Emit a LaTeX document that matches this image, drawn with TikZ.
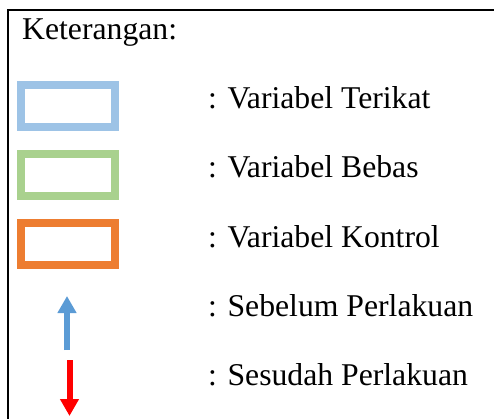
\documentclass[tikz,border=0pt]{standalone}
\usepackage{fontspec}
\setmainfont{Liberation Serif}
\usetikzlibrary{arrows.meta}
\definecolor{terikatColor}{HTML}{9DC3E6}
\definecolor{bebasColor}{HTML}{A9D18E}
\definecolor{kontrolColor}{HTML}{ED7D31}
\definecolor{sebelumColor}{HTML}{5B9BD5}
\definecolor{sesudahColor}{HTML}{FF0000}
\tikzset{
	legbox/.style={draw=#1, line width=8pt, minimum width=94pt, minimum height=42pt, inner sep=0, outer sep=0},
	legtext/.style={anchor=base west, inner sep=0, font=\fontsize{31.7}{38}\selectfont},
	legarrow/.style={draw=#1, line width=6pt, -{Triangle[length=17pt,width=18pt]}, #1}
}
\begin{document}
\begin{tikzpicture}[x=1pt,y=-1pt]
				\useasboundingbox (0,0) rectangle (494,419);
				\draw[line width=2pt] (8.3,419) -- (8.3,10) -- (494,10);
				
				\node[legtext] (judul) at (22,40) {Keterangan:};
				
				\node[legbox=terikatColor] (terikat) at (68,106) {};
				\node[legbox=bebasColor] (bebas) at (68,175) {};
				\node[legbox=kontrolColor] (kontrol) at (68,244) {};
				
				\coordinate (sebelumA) at (67,350);
				\coordinate (sebelumB) at (67,296);
				\coordinate (sesudahA) at (69.5,360);
				\coordinate (sesudahB) at (69.5,416);
				\draw[legarrow=sebelumColor] (sebelumA) -- (sebelumB);
				\draw[legarrow=sesudahColor] (sesudahA) -- (sesudahB);
				
				\node[legtext] (tTerikat) at (208,109) {: Variabel Terikat};
				\node[legtext] (tBebas) at (208,178) {: Variabel Bebas};
				\node[legtext] (tKontrol) at (208,247) {: Variabel Kontrol};
				\node[legtext] (tSebelum) at (208,316) {: Sebelum Perlakuan};
				\node[legtext] (tSesudah) at (208,385) {: Sesudah Perlakuan};
			\end{tikzpicture}
\end{document}
